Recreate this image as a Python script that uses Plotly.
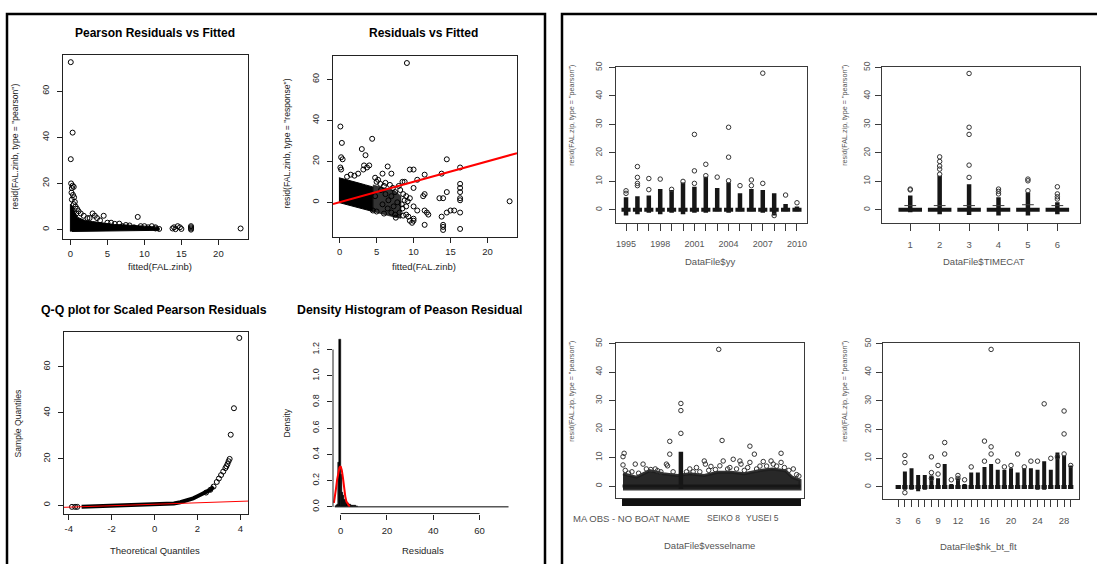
import plotly.graph_objects as go

W, H = 1097, 564
FONT = "Liberation Sans, Arial, Helvetica, sans-serif"

# ------------------------------------------------------------------ data
# Plot 1: Pearson residuals vs fitted (sparse points + dense core envelope)
p1_points = [(0.05, 72.5), (0.3, 42), (0.05, 30.5), (0.1, 20), (0.3, 19), (0.2, 18), (0.45, 18.5),
             (0.15, 16), (0.35, 15), (0.5, 14), (0.2, 13), (0.6, 12), (0.7, 10), (0.45, 11), (0.9, 9),
             (0.8, 7), (1.1, 8), (1.4, 7), (1.8, 6), (2.3, 5), (2.6, 5), (3.0, 7), (3.3, 6), (3.6, 5),
             (4.0, 4), (4.5, 6), (5.5, 3), (5.0, 3), (6.0, 2.5), (6.6, 2.6), (7.0, 1.5), (7.5, 2),
             (8.0, 1.8), (8.6, 1.0), (9.1, 5.5), (9.5, 1.5), (10.0, 1.5), (10.5, 1), (11.0, 1.5),
             (11.5, 1), (11.5, 0.5), (12.0, 0.3), (13.8, 0.5), (14.0, 1), (14.2, 0.2), (14.5, 1.5),
             (14.8, 1), (15.0, 0.3), (16.3, 1.5), (16.3, 1), (16.3, 0.5), (16.3, 0), (23.0, 0.5)]
p1_dense_x = [0.0, 0.0, 0.3, 0.6, 1.0, 1.5, 2.0, 3.0, 4.0, 5.0, 6.0, 7.0, 8.0, 9.0, 10.0, 11.0, 12.0, 12.0, 0.2]
p1_dense_y = [-0.8, 11.0, 10.0, 7.5, 5.3, 4.5, 3.9, 3.5, 3.0, 2.4, 2.2, 2.1, 1.8, 1.7, 1.5, 1.3, 0.8, -0.3, -0.8]

# Plot 2: response residuals vs fitted
p2_points = [(9.1, 68), (0.1, 37), (0.3, 29), (0.2, 22), (0.4, 21), (4.4, 31), (3.0, 26), (3.5, 23),
             (3.3, 18), (3.7, 17), (4.0, 18), (3.2, 16), (0.1, 17), (0.2, 16), (6.5, 17.5), (5.8, 14),
             (7.0, 14), (9.5, 16), (10.0, 16), (8.5, 10), (11.5, 13.5), (10.5, 11), (14.5, 21),
             (13.8, 14), (16.3, 17), (16.3, 9), (16.3, 7), (16.3, 5), (16.3, 2), (16.3, 1), (16.3, -5),
             (16.3, -13), (14.0, 2), (13.5, 2), (14.5, 5), (14.5, -5), (15.0, -4), (15.5, -4),
             (13.8, -7), (14.0, -11), (14.0, -12), (14.0, -13.5), (11.5, -11), (11.5, -4), (12.0, -6),
             (11.8, -5), (10.0, -8), (10.0, -9), (9.8, -10), (9.5, -9), (9.3, -7), (9.0, -6),
             (10.5, -4), (10.0, -2), (9.5, 2), (10.0, 7), (11.5, 4), (11.3, 3), (23.0, 0.5), (8.8, 10),
             (8.0, 8), (7.5, 5), (7.0, 3), (7.8, 0), (8.5, -3), (8.8, 1), (9.2, 0.5), (6.5, -3),
             (7.0, -5), (7.5, -6), (5.0, 10), (5.5, 9), (6.0, 8), (4.8, 12), (5.2, 11), (6.2, 9.5),
             (6.8, 8.5), (7.2, 7), (4.5, -4), (5.0, -4.5), (6.0, -5.5), (2.5, 14), (2.0, 13),
             (1.5, 13.5), (1.0, 12.5), (8.2, 6), (8.6, 4), (9.0, 3), (8.4, -1), (9.0, -2), (8.1, -5),
             (8.6, -6.5), (7.6, -7.5), (6.2, 4), (5.6, 6), (6.6, 1), (7.3, -2), (5.8, -1), (4.8, 3)]
p2_core_x = [-0.1, 0.5, 1.5, 2.5, 3.5, 4.5, 4.5, 3.5, 2.5, 1.5, 0.5, -0.1]
p2_core_y = [12.0, 11.5, 10.5, 9.5, 8.5, 7.5, -4.5, -3.5, -2.5, -1.5, -0.5, -0.1]
p2_outer_x = [4.5, 5.5, 6.5, 7.5, 8.3, 8.3, 7.5, 6.5, 5.5, 4.5]
p2_outer_y = [8.5, 7.5, 6.5, 5.5, 3.0, -7.8, -7.3, -6.3, -5.4, -4.5]
p2_ref_intercept, p2_ref_slope = 0.0, 1.0

# Plot 3: Q-Q plot
qq_points = [(-3.85, -0.8), (-3.7, -0.8), (-3.6, -0.8), (-3.4, -0.7), (-3.0, -0.6), (-2.5, -0.45),
             (-2.0, -0.3), (-1.5, -0.15), (-1.0, 0.0), (-0.5, 0.1), (0.0, 0.2), (0.5, 0.4), (0.9, 0.7),
             (1.2, 1.2), (1.5, 2.0), (1.8, 2.9), (2.0, 3.8), (2.2, 4.6), (2.4, 5.4), (2.6, 6.6),
             (2.75, 8.0), (2.9, 10.0), (3.0, 11.5), (3.1, 13.0), (3.2, 14.5), (3.3, 16.0), (3.35, 16.8),
             (3.4, 17.8), (3.45, 19.0), (3.5, 20.0), (3.55, 30.5), (3.7, 42.0), (3.95, 72.5)]
qq_line_intercept, qq_line_slope = 0.33, 0.315

# Plot 4: density histogram
hist_left = [-2.5, -2.0, -1.5, -1.0, -0.5, 0.0, 0.5, 1.0, 1.5, 2.0, 2.5, 3.0, 3.5, 4.0, 4.5, 5.0, 5.5, 6.0, 6.5, 7.0]
hist_density = [0.005, 0.01, 0.02, 0.34, 1.28, 0.25, 0.11, 0.09, 0.06, 0.045, 0.035, 0.025, 0.02,
                0.015, 0.012, 0.01, 0.008, 0.007, 0.006, 0.005]
hist_binwidth = 0.5
hist_span = [-2.5, 72.5]
dens_x = [-2.9, -2.5, -2.0, -1.5, -1.0, -0.5, 0.0, 0.5, 1.0, 1.5, 2.0, 2.5, 3.0, 3.5, 4.0]
dens_y = [0.03, 0.07, 0.14, 0.21, 0.27, 0.30, 0.31, 0.28, 0.22, 0.14, 0.08, 0.04, 0.02, 0.01, 0.005]

# Plot 5: residuals by year
yy_levels = [str(y) for y in range(1995, 2011)]
yy_shown = ['1995', '1998', '2001', '2004', '2007', '2010']
yy_dense_lo = [-2, -1.5, -1, -1.5, -1, -1.5, -1, -1, -0.5, -1, -0.5, -0.5, -1, -2, -0.5, -0.5]
yy_dense_hi = [4.4, 4.8, 5, 7.3, 7, 9.6, 8.1, 11.6, 7.7, 9.6, 5.8, 7.3, 7, 5.8, 2.1, 1.2]
yy_outliers = [(1, 6.7), (1, 5.8), (2, 8.5), (2, 9.3), (2, 11.4), (2, 15.2), (3, 7.1), (3, 11),
               (4, 10.8), (5, 7.2), (6, 10), (7, 9.3), (7, 13.7), (7, 26.5), (8, 16), (8, 12),
               (9, 11.5), (10, 10.2), (10, 18.5), (10, 29), (11, 8.5), (12, 8.5), (12, 10.5),
               (13, 9.3), (13, 48), (14, -2), (15, 5.2), (16, 2.5)]

# Plot 6: residuals by TIMECAT
tc_levels = ['1', '2', '3', '4', '5', '6']
tc_dense_lo = [-0.8, -1.5, -1.8, -2, -2, -1.5]
tc_dense_hi = [5, 12, 9, 4.4, 6.1, 2.7]
tc_whisk_hi = [1.5, 1.5, 1.5, 1.5, 1.8, 1.5]
tc_outliers = [(1, 7), (1, 7.3), (2, 12.5), (2, 14.3), (2, 15.4), (2, 17), (2, 18.6),
               (3, 11.4), (3, 15.7), (3, 26.5), (3, 29), (3, 47.9), (4, 5.6), (4, 6.5), (4, 7.3),
               (5, 6.7), (5, 10.2), (5, 10.8), (6, 3.8), (6, 4.6), (6, 5.6), (6, 8.1)]

# Plot 7: residuals by vessel name
N_VESSEL = 160
vessel_labels = ['MA OBS - NO BOAT NAME', 'SEIKO 8', 'YUSEI 5']
vessel_label_pos = [None, 91, 126]
vessel_band_top = [(1, 4.3), (13, 3.1), (25, 5.4), (37, 4.3), (50, 3.7), (61, 4.3), (74, 3.7),
                   (86, 4.8), (98, 4.8), (110, 4.3), (123, 5.4), (135, 6.0), (147, 5.4), (153, 3.1), (160, 2.0)]
vessel_band_floor = -1.0
vessel_column = (53, -1.0, 12.0)
vessel_points = [(1, 10.3), (2, 11.5), (1, 7.4), (3, 5.5), (6, 4.5), (9, 5), (12, 7.7), (15, 4.5),
                 (19, 7.7), (22, 6), (26, 5.8), (30, 6), (32, 5.4), (35, 5), (40, 7.7), (41, 7.1),
                 (43, 11.2), (43, 15.7), (46, 5), (53, 18.5), (53, 26.5), (53, 29), (58, 5), (61, 6),
                 (64, 5), (67, 6.5), (70, 5), (74, 8.8), (75, 7.7), (78, 5.5), (80, 6.9), (84, 5.8),
                 (87, 48), (88, 7.1), (90, 16), (91, 8.8), (95, 6), (97, 6.5), (100, 9.4), (103, 6),
                 (106, 8.8), (107, 7.7), (110, 5.5), (113, 6.5), (115, 14), (115, 8.3), (119, 11.2),
                 (121, 6), (124, 7), (127, 8.6), (130, 7), (134, 8.8), (136, 7.7), (139, 7),
                 (143, 11.5), (143, 8.3), (146, 6.5), (150, 5.5), (154, 6), (157, 4), (159, 3.5)]

# Plot 8: residuals by hk_bt_flt
hk_levels = [str(v) for v in range(3, 30)]
hk_shown = ['3', '6', '9', '12', '16', '20', '24', '28']
hk_dense_hi = [0.5, 5.4, 6.5, 4.2, 4.2, 4.0, 3.0, 8.0, 1.0, 3.0, 1.0, 5.0, 5.0, 7.0, 8.0, 6.0, 6.0,
               6.5, 5.0, 6.5, 6.5, 6.0, 9.0, 6.0, 12.0, 11.0, 7.5]
hk_dense_lo = [-0.5, -1.0, -1.0, -1.5, -1.0, -0.5, -0.5, -0.5, -0.5, -0.5, -0.5, -0.5, -0.5, -0.5,
               -0.5, -0.5, -0.5, -0.5, -0.5, -0.5, -0.5, -1.0, -1.0, -0.5, -0.5, -0.5, -0.5]
hk_outliers = [(2, 8.5), (2, 11), (2, -2), (6, 10.5), (6, 5), (6, 3), (7, 7.5), (7, 4.5), (8, 15.5),
               (8, 11.5), (9, 2.5), (10, 4), (10, 3), (11, 2.5), (12, 7), (14, 16), (14, 9), (15, 48),
               (15, 14), (15, 11.5), (16, 9), (17, 7), (18, 7.5), (19, 11.5), (20, 7), (21, 9), (22, 9),
               (23, 29), (24, 10), (25, 10.5), (26, 26.5), (26, 18.5), (26, 11.5), (27, 7.5)]

left_yticks = [0, 20, 40, 60]
right_yticks = [0, 10, 20, 30, 40, 50]
hist_xticks = [0, 20, 40, 60]
hist_yticks = [0.0, 0.2, 0.4, 0.6, 0.8, 1.0, 1.2]

# ------------------------------------------------------------------ helpers
def fx(p):
    return p / W


def fy(p):
    return 1 - p / H


fig = go.Figure()
layout = {}
annotations = []
shapes = []

LEFT_TXT = '#1e1e1e'
RIGHT_TXT = '#555555'


def ax_names(k):
    return ('x' if k == 1 else 'x%d' % k), ('y' if k == 1 else 'y%d' % k)


def add_axes(k, xdom, ydom, xr, yr, xtv, ytv, xtt=None, ytt=None, box=True, color='#222',
             txt=LEFT_TXT, xfs=9.5, yfs=9, xlen=5, ylen=5, xstand=1, ystand=4, xtw=1):
    xn, yn = ax_names(k)
    common = dict(showgrid=False, zeroline=False, ticks='outside', tickcolor=color,
                  linecolor=color, linewidth=1, showline=box, mirror=box)
    layout['xaxis' if k == 1 else 'xaxis%d' % k] = dict(
        domain=[fx(xdom[0]), fx(xdom[1])], anchor=yn, range=xr, tickmode='array', tickvals=xtv,
        ticktext=xtt if xtt is not None else [str(v) for v in xtv], ticklen=xlen, tickwidth=xtw,
        tickfont=dict(family=FONT, size=xfs, color=txt), ticklabelstandoff=xstand, **common)
    layout['yaxis' if k == 1 else 'yaxis%d' % k] = dict(
        domain=[fy(ydom[1]), fy(ydom[0])], anchor=xn, range=yr, tickmode='array', tickvals=ytv,
        ticktext=ytt if ytt is not None else [str(v) for v in ytv], ticklen=ylen, tickangle=-90,
        tickwidth=1, tickfont=dict(family=FONT, size=yfs, color=txt), ticklabelstandoff=ystand, **common)


def ann(text, x, y, size, color, bold=False, angle=0, xanchor='center'):
    annotations.append(dict(text=('<b>%s</b>' % text) if bold else text, x=fx(x), y=fy(y),
                            xref='paper', yref='paper', showarrow=False, textangle=angle,
                            xanchor=xanchor, yanchor='middle',
                            font=dict(family=FONT, size=size, color=color)))


def tr(k, **kw):
    xn, yn = ax_names(k)
    fig.add_trace(go.Scatter(xaxis=xn, yaxis=yn, showlegend=False, hoverinfo='skip', **kw))


def circles(k, pts, color='black', size=5, width=1):
    tr(k, x=[p[0] for p in pts], y=[p[1] for p in pts], mode='markers',
       marker=dict(symbol='circle-open', size=size, color=color, line=dict(width=width, color=color)))


def segments(k, segs, color, width):
    xs, ys = [], []
    for (x0, y0, x1, y1) in segs:
        xs += [x0, x1, None]
        ys += [y0, y1, None]
    tr(k, x=xs, y=ys, mode='lines', line=dict(color=color, width=width))


# ------------------------------------------------------------------ left panel
# 1
add_axes(1, (63, 248), (50, 235), [-1.0, 24.0], [-3.84, 75.4], [0, 5, 10, 15, 20], left_yticks)
tr(1, x=p1_dense_x, y=p1_dense_y, mode='lines', fill='toself', fillcolor='black',
   line=dict(color='black', width=1))
circles(1, p1_points)
ann('Pearson Residuals vs Fitted', 155, 27, 12, 'black', bold=True)
ann('fitted(FAL.zinb)', 160, 263, 9.5, LEFT_TXT)
ann('resid(FAL.zinb, type = "pearson")', 15, 142, 8.6, LEFT_TXT, angle=-90)

# 2
p2_xr = [-0.9, 24.0]
add_axes(2, (333, 517), (51, 233), p2_xr, [-16.7, 71.2], [0, 5, 10, 15, 20], left_yticks)
tr(2, x=p2_outer_x, y=p2_outer_y, mode='lines', fill='toself', fillcolor='rgba(0,0,0,0.8)',
   line=dict(color='rgba(0,0,0,0.6)', width=1))
tr(2, x=p2_core_x, y=p2_core_y, mode='lines', fill='toself', fillcolor='black',
   line=dict(color='black', width=1))
circles(2, p2_points)
tr(2, x=p2_xr, y=[p2_ref_intercept + p2_ref_slope * v for v in p2_xr], mode='lines',
   line=dict(color='#ff0000', width=2))
ann('Residuals vs Fitted', 423, 27, 12, 'black', bold=True)
ann('fitted(FAL.zinb)', 424, 263, 9.5, LEFT_TXT)
ann('resid(FAL.zinb, type = "response")', 287, 139, 8.6, LEFT_TXT, angle=-90)

# 3
qq_xr = [-4.22, 4.355]
add_axes(3, (64, 248), (329, 513), qq_xr, [-3.7, 75.3], [-4, -2, 0, 2, 4], left_yticks)
dense_part = [p for p in qq_points if -3.5 <= p[0] <= 2.8]
tr(3, x=[p[0] for p in dense_part], y=[p[1] for p in dense_part], mode='lines',
   line=dict(color='black', width=4))
tail = [p for p in qq_points if p[0] < -3.5 or p[0] >= 2.3]
circles(3, tail)
tr(3, x=qq_xr, y=[qq_line_intercept + qq_line_slope * v for v in qq_xr], mode='lines',
   line=dict(color='#ff0000', width=1))
ann('Q-Q plot for Scaled Pearson Residuals', 154, 307, 12.3, 'black', bold=True)
ann('Theoretical Quantiles', 155, 550, 9.5, LEFT_TXT)
ann('Sample Quantiles', 18, 422, 8.6, LEFT_TXT, angle=-90)

# 4 histogram
add_axes(4, (333, 515), (330, 513), [-3.3, 75.3], [-0.051, 1.33], hist_xticks, hist_yticks,
         ytt=['%.1f' % v for v in hist_yticks], box=False, xstand=3)
fig.add_trace(go.Bar(x=[l + hist_binwidth / 2 for l in hist_left], y=hist_density, width=hist_binwidth,
                     marker=dict(color='black', line=dict(color='black', width=0.5)),
                     xaxis='x4', yaxis='y4', showlegend=False, hoverinfo='skip'))
tr(4, x=hist_span, y=[0, 0], mode='lines', line=dict(color='black', width=1))
tr(4, x=dens_x, y=dens_y, mode='lines', line=dict(color='#ff0000', width=2))
shapes.append(dict(type='line', xref='x4 domain', yref='y4', x0=0, x1=0, y0=hist_yticks[0],
                   y1=hist_yticks[-1], line=dict(color='#222', width=1)))
shapes.append(dict(type='line', xref='x4', yref='y4 domain', x0=hist_xticks[0], x1=hist_xticks[-1],
                   y0=0, y1=0, line=dict(color='#222', width=1)))
ann('Density Histogram of Peason Residual', 295, 307, 12.3, 'black', bold=True, xanchor='left')
ann('Residuals', 423, 550, 9.5, LEFT_TXT)
ann('Density', 287, 422, 8.6, LEFT_TXT, angle=-90)

# ------------------------------------------------------------------ right panel
PT = '#333333'
COL = '#161616'
RBOX = '#3a3a3a'


def factor_plot(k, n, lo, hi, outliers, box_half=0.4, colw=4.5):
    segs = [(i + 1, lo[i], i + 1, hi[i]) for i in range(n)]
    segments(k, segs, COL, colw)
    segments(k, [(i + 1 - box_half, 0, i + 1 + box_half, 0) for i in range(n)], COL, 4)
    circles(k, outliers, color=PT, size=4.5, width=1)


# 5
n5 = len(yy_levels)
add_axes(5, (616, 807), (62, 219), [0.12, 16.88], [-4.5, 50.05], list(range(1, n5 + 1)), right_yticks,
         xtt=[l if l in yy_shown else '' for l in yy_levels], color=RBOX, txt=RIGHT_TXT,
         xfs=9, yfs=8.5, xlen=7, ylen=6, xstand=6, ystand=4)
factor_plot(5, n5, yy_dense_lo, yy_dense_hi, yy_outliers)
ann('DataFile$yy', 710, 258, 9.5, RIGHT_TXT)
ann('resid(FAL.zip, type = "pearson")', 572, 111, 7.2, RIGHT_TXT, angle=-90)

# 6
n6 = len(tc_levels)
add_axes(6, (882, 1080), (62, 219), [0.04, 6.77], [-4.5, 50.05], list(range(1, n6 + 1)), right_yticks,
         xtt=tc_levels, color=RBOX, txt=RIGHT_TXT, xfs=9.5, yfs=8.5, xlen=7, ylen=6, xstand=6, ystand=2)
factor_plot(6, n6, tc_dense_lo, tc_dense_hi, tc_outliers, box_half=0.4)
segments(6, [(i + 1 - 0.2, tc_whisk_hi[i], i + 1 + 0.2, tc_whisk_hi[i]) for i in range(n6)], RBOX, 1)
ann('DataFile$TIMECAT', 984, 258, 9.5, RIGHT_TXT)
ann('resid(FAL.zip, type = "pearson")', 845, 111, 7.2, RIGHT_TXT, angle=-90)

# 7
add_axes(7, (616, 804), (341, 497), [-5.3, 163.6], [-4.1, 50.1], list(range(1, N_VESSEL + 1)),
         right_yticks, xtt=[''] * N_VESSEL, color='#111', txt=RIGHT_TXT, yfs=8.5, xlen=7, ylen=6,
         ystand=4, xtw=1.6)
layout['yaxis7']['tickcolor'] = RBOX
layout['yaxis7']['linecolor'] = RBOX
layout['xaxis7']['linecolor'] = RBOX
band_x = [p[0] for p in vessel_band_top] + [vessel_band_top[-1][0], vessel_band_top[0][0]]
band_y = [p[1] for p in vessel_band_top] + [vessel_band_floor, vessel_band_floor]
tr(7, x=band_x, y=band_y, mode='lines', fill='toself', fillcolor='rgba(10,10,10,0.88)',
   line=dict(color='rgba(30,30,30,0.9)', width=3))
segments(7, [(vessel_column[0], vessel_column[1], vessel_column[0], vessel_column[2])], COL, 4.5)
segments(7, [(1 - 0.4, 0, N_VESSEL + 0.4, 0)], COL, 3)
circles(7, vessel_points, color=PT, size=4.5, width=1)
ann(vessel_labels[0], 692, 518, 9.5, RIGHT_TXT, xanchor='right')
for lab, pos in zip(vessel_labels[1:], vessel_label_pos[1:]):
    annotations.append(dict(text=lab, x=pos, y=fy(518), xref='x7', yref='paper', showarrow=False,
                            xanchor='center', yanchor='middle',
                            font=dict(family=FONT, size=8.5, color=RIGHT_TXT)))
ann('DataFile$vesselname', 709, 545, 9.5, RIGHT_TXT)
ann('resid(FAL.zip, type = "pearson")', 572, 390, 7.2, RIGHT_TXT, angle=-90)

# 8
n8 = len(hk_levels)
add_axes(8, (883, 1079), (341, 498), [-1.3, 28.25], [-4.1, 50.1], list(range(1, n8 + 1)), right_yticks,
         xtt=[l if l in hk_shown else '' for l in hk_levels], color=RBOX, txt=RIGHT_TXT,
         xfs=9.5, yfs=8.5, xlen=7, ylen=6, xstand=6, ystand=2)
factor_plot(8, n8, hk_dense_lo, hk_dense_hi, hk_outliers, colw=4)
ann('DataFile$hk_bt_flt', 978, 546, 9.5, RIGHT_TXT)
ann('resid(FAL.zip, type = "pearson")', 845, 390, 7.2, RIGHT_TXT, angle=-90)

# ------------------------------------------------------------------ frames
shapes.append(dict(type='rect', xref='paper', yref='paper', x0=fx(7), x1=fx(545), y0=-0.05, y1=fy(8),
                   line=dict(color='black', width=2.5)))
shapes.append(dict(type='rect', xref='paper', yref='paper', x0=fx(562), x1=1.05, y0=-0.05, y1=fy(8),
                   line=dict(color='black', width=2.5)))

fig.update_layout(width=W, height=H, margin=dict(l=0, r=0, t=0, b=0), paper_bgcolor='white',
                  plot_bgcolor='white', showlegend=False, annotations=annotations, shapes=shapes,
                  bargap=0, **layout)
fig.write_html("out.html")
